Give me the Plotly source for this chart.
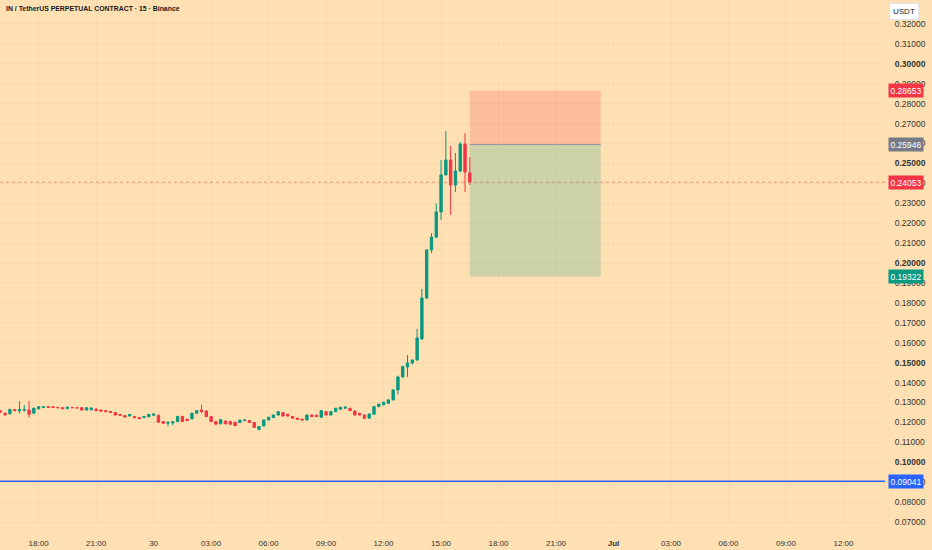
import pandas as pd
import plotly.graph_objects as go

# 15m candles, IN/USDT perp, 29 Jun 16:00 -> 30 Jun 16:30
start_time = "2025-06-29 16:00"
opens = [0.1258, 0.1246, 0.1243, 0.1264, 0.1259, 0.1261, 0.1262, 0.1246, 0.1268, 0.1275,
         0.1279, 0.1278, 0.1275, 0.1274, 0.1269, 0.1275, 0.1274, 0.1274, 0.1262, 0.1263,
         0.1267, 0.1262, 0.1259, 0.1255, 0.1250, 0.1240, 0.1234, 0.1232, 0.1229, 0.1224,
         0.1224, 0.1228, 0.1236, 0.1236, 0.1204, 0.1196, 0.1197, 0.1204, 0.1230, 0.1216,
         0.1218, 0.1246, 0.1262, 0.1257, 0.1229, 0.1204, 0.1193, 0.1207, 0.1204, 0.1201,
         0.1199, 0.1209, 0.1209, 0.1199, 0.1165, 0.1182, 0.1212, 0.1224, 0.1237, 0.1249,
         0.1241, 0.1229, 0.1221, 0.1216, 0.1212, 0.1237, 0.1236, 0.1226, 0.1254, 0.1237,
         0.1254, 0.1266, 0.1271, 0.1271, 0.1257, 0.1246, 0.1237, 0.1221, 0.1241, 0.1279,
         0.1288, 0.1296, 0.1313, 0.1363, 0.1428, 0.1478, 0.1498, 0.1513, 0.1619, 0.1824,
         0.2065, 0.2130, 0.2256, 0.2442, 0.2517, 0.2391, 0.2462, 0.2597, 0.2452]
highs = [0.1262, 0.1250, 0.1268, 0.1267, 0.1307, 0.1288, 0.1307, 0.1274, 0.1282, 0.1281,
         0.1281, 0.1280, 0.1278, 0.1276, 0.1280, 0.1277, 0.1276, 0.1276, 0.1277, 0.1275,
         0.1270, 0.1264, 0.1261, 0.1257, 0.1252, 0.1242, 0.1236, 0.1241, 0.1232, 0.1226,
         0.1232, 0.1242, 0.1245, 0.1238, 0.1206, 0.1207, 0.1207, 0.1232, 0.1233, 0.1218,
         0.1248, 0.1262, 0.1288, 0.1260, 0.1231, 0.1206, 0.1216, 0.1209, 0.1206, 0.1203,
         0.1213, 0.1214, 0.1211, 0.1201, 0.1181, 0.1214, 0.1228, 0.1239, 0.1256, 0.1251,
         0.1243, 0.1231, 0.1223, 0.1218, 0.1239, 0.1239, 0.1238, 0.1261, 0.1256, 0.1256,
         0.1273, 0.1278, 0.1281, 0.1273, 0.1259, 0.1248, 0.1239, 0.1244, 0.1281, 0.1294,
         0.1303, 0.1316, 0.1366, 0.1435, 0.1485, 0.1538, 0.1516, 0.1670, 0.1870, 0.2070,
         0.2150, 0.2300, 0.2517, 0.2662, 0.2587, 0.2552, 0.2607, 0.2652, 0.2532]
lows = [0.1248, 0.1234, 0.1240, 0.1256, 0.1246, 0.1254, 0.1224, 0.1243, 0.1265, 0.1272,
        0.1273, 0.1272, 0.1271, 0.1267, 0.1267, 0.1271, 0.1270, 0.1260, 0.1260, 0.1261,
        0.1257, 0.1255, 0.1252, 0.1248, 0.1235, 0.1233, 0.1225, 0.1230, 0.1222, 0.1217,
        0.1222, 0.1226, 0.1234, 0.1199, 0.1194, 0.1181, 0.1185, 0.1202, 0.1202, 0.1207,
        0.1216, 0.1244, 0.1246, 0.1227, 0.1202, 0.1189, 0.1191, 0.1191, 0.1189, 0.1182,
        0.1197, 0.1207, 0.1197, 0.1173, 0.1160, 0.1180, 0.1210, 0.1222, 0.1235, 0.1230,
        0.1230, 0.1219, 0.1214, 0.1210, 0.1210, 0.1227, 0.1227, 0.1224, 0.1235, 0.1235,
        0.1252, 0.1264, 0.1269, 0.1257, 0.1235, 0.1235, 0.1219, 0.1219, 0.1239, 0.1277,
        0.1286, 0.1294, 0.1310, 0.1340, 0.1425, 0.1428, 0.1490, 0.1510, 0.1615, 0.1820,
        0.2050, 0.2125, 0.2216, 0.2440, 0.2241, 0.2356, 0.2455, 0.2356, 0.2391]
closes = [0.1252, 0.1238, 0.1265, 0.1259, 0.1264, 0.1263, 0.1241, 0.1271, 0.1279, 0.1278,
          0.1276, 0.1275, 0.1274, 0.1269, 0.1276, 0.1274, 0.1273, 0.1262, 0.1274, 0.1272,
          0.1259, 0.1257, 0.1254, 0.1250, 0.1237, 0.1235, 0.1227, 0.1239, 0.1224, 0.1219,
          0.1230, 0.1240, 0.1242, 0.1201, 0.1196, 0.1199, 0.1203, 0.1230, 0.1204, 0.1209,
          0.1246, 0.1259, 0.1254, 0.1229, 0.1204, 0.1191, 0.1214, 0.1193, 0.1191, 0.1184,
          0.1211, 0.1212, 0.1199, 0.1175, 0.1179, 0.1212, 0.1226, 0.1237, 0.1254, 0.1232,
          0.1232, 0.1221, 0.1216, 0.1212, 0.1237, 0.1229, 0.1229, 0.1259, 0.1237, 0.1254,
          0.1271, 0.1276, 0.1276, 0.1259, 0.1237, 0.1237, 0.1221, 0.1242, 0.1279, 0.1292,
          0.1301, 0.1313, 0.1363, 0.1428, 0.1480, 0.1498, 0.1513, 0.1624, 0.1824, 0.2065,
          0.2130, 0.2256, 0.2442, 0.2517, 0.2391, 0.2462, 0.2597, 0.2457, 0.24053]

# short position tool + lines
entry_price = 0.25946
stop_price = 0.28653
target_price = 0.19322
last_price = 0.24053
support_price = 0.09041
pos_start = "2025-06-30 16:30"
pos_end = "2025-06-30 23:20"

x_ticks = ["2025-06-29 18:00", "2025-06-29 21:00", "2025-06-30 00:00", "2025-06-30 03:00",
           "2025-06-30 06:00", "2025-06-30 09:00", "2025-06-30 12:00", "2025-06-30 15:00",
           "2025-06-30 18:00", "2025-06-30 21:00", "2025-07-01 00:00", "2025-07-01 03:00",
           "2025-07-01 06:00", "2025-07-01 09:00", "2025-07-01 12:00"]
x_labels = ["18:00", "21:00", "30", "03:00", "06:00", "09:00", "12:00", "15:00",
            "18:00", "21:00", "<b>Jul</b>", "03:00", "06:00", "09:00", "12:00"]
y_ticks = [round(0.07 + 0.01 * k, 2) for k in range(26)]
y_labels = [f"<b>{v:.5f}</b>" if round(v * 100) % 5 == 0 else f"{v:.5f}" for v in y_ticks]

BG = "#FFE0B2"
UP, DOWN = "#089981", "#F23645"
FONT = "Liberation Sans"

times = pd.date_range(start_time, periods=len(closes), freq="15min")

fig = go.Figure()
fig.add_trace(go.Candlestick(
    x=times, open=opens, high=highs, low=lows, close=closes,
    increasing=dict(line=dict(color=UP, width=1), fillcolor=UP),
    decreasing=dict(line=dict(color=DOWN, width=1), fillcolor=DOWN),
    whiskerwidth=0, showlegend=False, hoverinfo="skip"))

# position zones
fig.add_shape(type="rect", x0=pos_start, x1=pos_end, y0=entry_price, y1=stop_price,
              fillcolor="rgba(242,54,69,0.2)", line_width=0, layer="below")
fig.add_shape(type="rect", x0=pos_start, x1=pos_end, y0=target_price, y1=entry_price,
              fillcolor="rgba(8,153,129,0.2)", line_width=0, layer="below")
fig.add_shape(type="line", x0=pos_start, x1=pos_end, y0=entry_price, y1=entry_price,
              line=dict(color="#9598A1", width=1))

fig.add_hline(y=last_price, line=dict(color="#C86A50", width=1, dash="dot"), opacity=0.6)
fig.add_hline(y=support_price, line=dict(color="#2962FF", width=1.5))

def price_tag(y, color):
    fig.add_annotation(xref="paper", yref="y", x=1, y=y, xanchor="left", yanchor="middle",
                       xshift=3, text=f"{y:.5f}", showarrow=False, bgcolor=color,
                       font=dict(color="white", size=8.5, family=FONT),
                       borderpad=1.5)

price_tag(stop_price, "#F23645")
price_tag(entry_price, "#787B86")
price_tag(last_price, "#F23645")
price_tag(target_price, "#089981")
price_tag(support_price, "#2962FF")

fig.add_annotation(xref="paper", yref="paper", x=0.004, y=0.995, xanchor="left", yanchor="top",
                   text="<b>IN / TetherUS PERPETUAL CONTRACT · 15 · Binance</b>", showarrow=False,
                   font=dict(size=6.9, color="#131722", family=FONT))
fig.add_annotation(xref="paper", yref="paper", x=1, y=1, xanchor="left", yanchor="top",
                   xshift=4, yshift=-3, text="USDT", showarrow=False, bgcolor="white",
                   bordercolor="#E0E3EB", borderwidth=1, borderpad=3,
                   font=dict(size=8, color="#131722", family=FONT))

fig.update_xaxes(type="date", range=["2025-06-29 15:59", "2025-07-01 14:10"],
                 tickvals=x_ticks, ticktext=x_labels, showgrid=True,
                 gridcolor="rgba(0,0,0,0.025)", zeroline=False, showline=False,
                 ticks="outside", ticklen=10, tickcolor="rgba(0,0,0,0)",
                 rangeslider_visible=False,
                 tickfont=dict(size=8, color="#333", family=FONT))
fig.update_yaxes(side="right", range=[0.0685, 0.332], tickvals=y_ticks, ticktext=y_labels,
                 showgrid=True, gridcolor="rgba(0,0,0,0.025)", zeroline=False,
                 ticks="outside", ticklen=7, tickcolor="rgba(0,0,0,0)",
                 tickfont=dict(size=8.5, color="#333", family=FONT))
fig.update_layout(width=932, height=550, paper_bgcolor=BG, plot_bgcolor=BG,
                  margin=dict(l=0, r=47, t=0, b=25), hovermode=False)

fig.write_html("out.html", config={"displayModeBar": False, "staticPlot": True},
               post_script="document.body.style.margin='0';document.body.style.overflow='hidden';")
